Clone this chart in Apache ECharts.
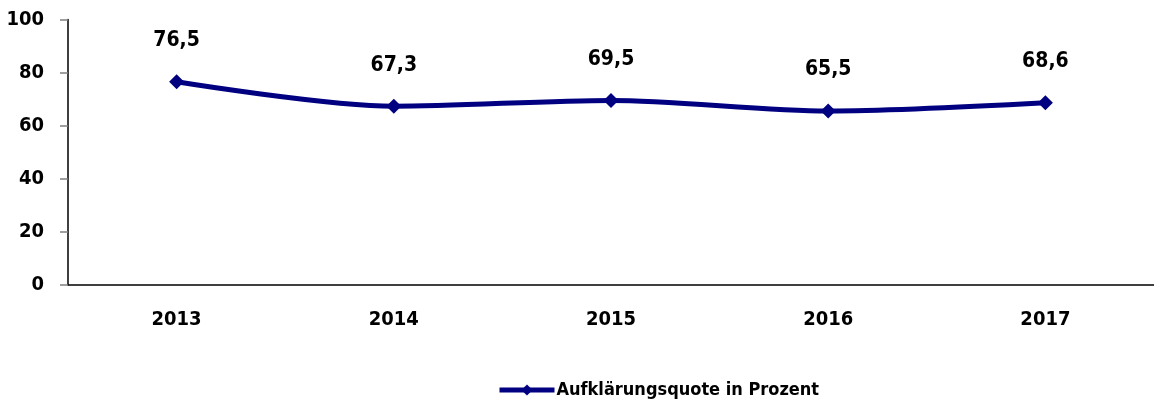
<!DOCTYPE html>
<html>
<head>
<meta charset="utf-8">
<script src="https://cdn.jsdelivr.net/npm/echarts@6/dist/echarts.min.js"></script>
<style>
html, body { margin: 0; padding: 0; background: #fff; }
#chart { width: 1154px; height: 403px; }
</style>
</head>
<body>
<div id="chart"></div>
<script>
var years = ['2013', '2014', '2015', '2016', '2017'];
var quote = [76.5, 67.3, 69.5, 65.5, 68.6];
var seriesName = 'Aufklärungsquote in Prozent';

var font = '"Liberation Sans Narrow", "DejaVu Sans Condensed", "Liberation Sans", sans-serif';
var myChart = echarts.init(document.getElementById('chart'));
var option = {
    animation: false,
    textStyle: { fontFamily: font },
    grid: { left: 68, right: 0, top: 19.5, bottom: 118.3 },
    legend: {
        left: 492,
        top: 376,
        itemWidth: 55,
        itemHeight: 14,
        itemGap: 2,
        data: [seriesName],
        lineStyle: { width: 5 },
        textStyle: { fontFamily: font, fontWeight: 'bold', fontSize: 18, color: '#000', padding: [0, 0, 0, -3] }
    },
    xAxis: {
        type: 'category',
        data: years,
        axisLine: { lineStyle: { color: '#000', width: 1.5 } },
        axisTick: { length: 8, lineStyle: { color: '#808080', width: 1.5 } },
        axisLabel: { margin: 25, fontFamily: font, fontWeight: 'bold', fontSize: 20, color: '#000' }
    },
    yAxis: {
        type: 'value',
        min: 0,
        max: 100,
        interval: 20,
        splitLine: { show: false },
        axisLine: { show: true, lineStyle: { color: '#000', width: 1.5 } },
        axisTick: { show: true, length: 8, lineStyle: { color: '#808080', width: 1.5 } },
        axisLabel: { margin: 24, fontFamily: font, fontWeight: 'bold', fontSize: 20, color: '#000' }
    },
    series: [{
        name: seriesName,
        type: 'line',
        data: quote,
        smooth: 0.3,
        symbol: 'diamond',
        symbolSize: 15,
        itemStyle: { color: '#000080' },
        lineStyle: { color: '#000080', width: 5 },
        label: {
            show: true,
            position: 'top',
            distance: 23,
            fontFamily: font,
            fontWeight: 'bold',
            fontSize: 21,
            color: '#000',
            formatter: function (p) { return String(p.value).replace('.', ','); }
        }
    }]
};
myChart.setOption(option);
</script>
</body>
</html>
